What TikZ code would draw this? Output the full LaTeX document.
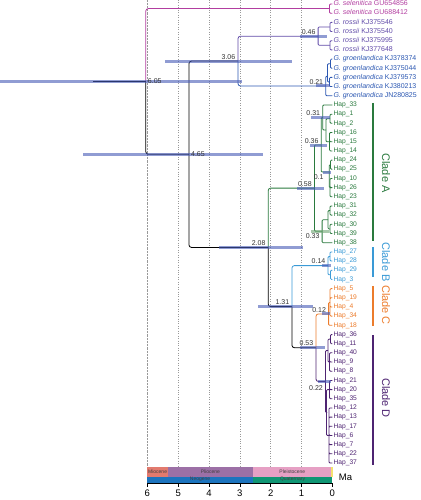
\documentclass[tikz,border=0pt]{standalone}
\usepackage{fontspec}
\setmainfont{Liberation Sans}
\usepackage{tikz}
\usepackage{xcolor}

\definecolor{colSel}{RGB}{178,62,160}
\definecolor{colRos}{RGB}{96,74,168}
\definecolor{colGro}{RGB}{44,88,178}
\definecolor{colA}{RGB}{42,122,62}
\definecolor{colB}{RGB}{58,154,214}
\definecolor{colC}{RGB}{236,124,44}
\definecolor{colD}{RGB}{78,36,114}
\definecolor{colHpd}{RGB}{70,90,182}
\definecolor{colHpdA}{RGB}{110,165,115}
\definecolor{colMio}{RGB}{226,122,110}
\definecolor{colPlio}{RGB}{156,112,166}
\definecolor{colPleis}{RGB}{230,160,196}
\definecolor{colHolo}{RGB}{244,226,110}
\definecolor{colNeo}{RGB}{28,116,190}
\definecolor{colQuat}{RGB}{16,150,116}

\tikzset{
  br/.style={line width=0.8pt, rounded corners=2.5pt},
  tb/.style={line width=0.8pt, rounded corners=1pt},
  hpd/.style={line width=3pt, draw=colHpd, draw opacity=0.6},
  hpdgreen/.style={line width=3pt, draw=colHpdA, draw opacity=0.6},
  nlab/.style={font=\fontsize{7}{7}\selectfont, text=black!80, inner sep=0pt},
  nabove/.style={anchor=south east, xshift=-2.5pt, yshift=1.5pt},
  nbelow/.style={anchor=north east, xshift=-2.5pt, yshift=-2pt},
  nright/.style={anchor=west, xshift=2pt},
  tiplab/.style={anchor=west, inner sep=1pt, text height=5pt, text depth=1.4pt, font=\fontsize{7}{8}\selectfont},
  haplab/.style={anchor=west, inner sep=1pt, text height=4.8pt, text depth=1.3pt, font=\fontsize{6.7}{7}\selectfont},
  gridline/.style={dotted, draw=black!40, line width=0.45pt},
  cladebar/.style={line width=1.6pt},
  cladelab/.style={rotate=-90, inner sep=0pt, font=\fontsize{11}{12}\selectfont},
  epochbox/.style={inner sep=0pt, minimum height=9.4pt, text=black!75, font=\fontsize{5}{5}\selectfont},
  periodbox/.style={inner sep=0pt, minimum height=6pt, text=black!75, font=\fontsize{5}{5}\selectfont},
  ticklab/.style={below, inner sep=2.5pt, font=\fontsize{9.5}{10}\selectfont}
}

\begin{document}
\begin{tikzpicture}[x=1pt, y=-1pt]
          % Variables
          \def \tz {332.3}
          \def \ma {30.83}
          \def \gridbot {467.3}

          \useasboundingbox (0,0) rectangle (420,500);

          % Grid lines
          \draw[gridline, densely dotted, line width=0.6pt] ({\tz-\ma*6},0) -- ({\tz-\ma*6},\gridbot);
          \draw[gridline] ({\tz-\ma*5},0) -- ({\tz-\ma*5},\gridbot);
          \draw[gridline] ({\tz-\ma*4},0) -- ({\tz-\ma*4},\gridbot);
          \draw[gridline] ({\tz-\ma*3},0) -- ({\tz-\ma*3},\gridbot);
          \draw[gridline] ({\tz-\ma*2},0) -- ({\tz-\ma*2},\gridbot);
          \draw[gridline] ({\tz-\ma*1},0) -- ({\tz-\ma*1},\gridbot);

          % Internal nodes (age in Ma)
          \coordinate (stem) at (93,81.4);
          \coordinate (root) at ({\tz-\ma*6.05},81.4);
          \coordinate (n465) at ({\tz-\ma*4.65},154.2);
          \coordinate (n306) at ({\tz-\ma*3.06},61.1);
          \coordinate (n208) at ({\tz-\ma*2.08},247.4);
          \coordinate (n131) at ({\tz-\ma*1.31},306.6);
          \coordinate (n058) at ({\tz-\ma*0.58},188.1);
          \coordinate (n053) at ({\tz-\ma*0.53},347.7);
          \coordinate (n046) at ({\tz-\ma*0.46},36.2);
          \coordinate (n036) at ({\tz-\ma*0.36},145);
          \coordinate (n033) at ({\tz-\ma*0.33},231.2);
          \coordinate (n031) at ({\tz-\ma*0.31},117.5);
          \coordinate (n022) at ({\tz-\ma*0.22},381.5);
          \coordinate (n021) at ({\tz-\ma*0.21},86);
          \coordinate (n014) at ({\tz-\ma*0.14},265.6);
          \coordinate (n012) at ({\tz-\ma*0.12},313.9);
          \coordinate (n010) at ({\tz-\ma*0.10},172);

          % Shallow nodes
          \coordinate (sel) at (329.5,8.6);
          \coordinate (rosA) at (330,27);
          \coordinate (rosB) at (330,45.3);
          \coordinate (groA) at (327.5,76.2);
          \coordinate (groB) at (330.5,63.7);
          \coordinate (groC) at (329.5,82);
          \coordinate (a1) at (326,130);
          \coordinate (a2) at (330,118.8);
          \coordinate (a3) at (329.5,141.7);
          \coordinate (a4) at (330.5,164.6);
          \coordinate (a5) at (330,187.6);
          \coordinate (a6) at (328,219.7);
          \coordinate (a7) at (330,210.5);
          \coordinate (a8) at (330,228.9);
          \coordinate (b1) at (330,256.5);
          \coordinate (b2) at (330.5,274.8);
          \coordinate (c1) at (330,302.4);
          \coordinate (d1) at (328,350.5);
          \coordinate (d2) at (326.5,412.5);
          \coordinate (d3) at (330.5,339.1);
          \coordinate (d4) at (329.5,362);
          \coordinate (d5) at (329.5,389.6);
          \coordinate (d6) at (329,435.5);

          % Tip labels
          \node[tiplab, text=colSel] (gs1) at (\tz,4.0) {\textit{G. selenitica} GU654856};
          \node[tiplab, text=colSel] (gs2) at (\tz,13.2) {\textit{G. selenitica} GU688412};
          \node[tiplab, text=colRos] (gr1) at (\tz,22.4) {\textit{G. rossii} KJ375546};
          \node[tiplab, text=colRos] (gr2) at (\tz,31.5) {\textit{G. rossii} KJ375540};
          \node[tiplab, text=colRos] (gr3) at (\tz,40.7) {\textit{G. rossii} KJ375995};
          \node[tiplab, text=colRos] (gr4) at (\tz,49.9) {\textit{G. rossii} KJ377648};
          \node[tiplab, text=colGro] (gg1) at (\tz,59.1) {\textit{G. groenlandica} KJ378374};
          \node[tiplab, text=colGro] (gg2) at (\tz,68.3) {\textit{G. groenlandica} KJ375044};
          \node[tiplab, text=colGro] (gg3) at (\tz,77.4) {\textit{G. groenlandica} KJ379573};
          \node[tiplab, text=colGro] (gg4) at (\tz,86.6) {\textit{G. groenlandica} KJ380213};
          \node[tiplab, text=colGro] (gg5) at (\tz,95.8) {\textit{G. groenlandica} JN280825};
          \node[haplab, text=colA] (h33) at (\tz,105.0) {Hap\_33};
          \node[haplab, text=colA] (h1) at (\tz,114.2) {Hap\_1};
          \node[haplab, text=colA] (h2) at (\tz,123.3) {Hap\_2};
          \node[haplab, text=colA] (h16) at (\tz,132.5) {Hap\_16};
          \node[haplab, text=colA] (h15) at (\tz,141.7) {Hap\_15};
          \node[haplab, text=colA] (h14) at (\tz,150.9) {Hap\_14};
          \node[haplab, text=colA] (h24) at (\tz,160.1) {Hap\_24};
          \node[haplab, text=colA] (h25) at (\tz,169.2) {Hap\_25};
          \node[haplab, text=colA] (h10) at (\tz,178.4) {Hap\_10};
          \node[haplab, text=colA] (h26) at (\tz,187.6) {Hap\_26};
          \node[haplab, text=colA] (h23) at (\tz,196.8) {Hap\_23};
          \node[haplab, text=colA] (h31) at (\tz,206.0) {Hap\_31};
          \node[haplab, text=colA] (h32) at (\tz,215.1) {Hap\_32};
          \node[haplab, text=colA] (h30) at (\tz,224.3) {Hap\_30};
          \node[haplab, text=colA] (h39) at (\tz,233.5) {Hap\_39};
          \node[haplab, text=colA] (h38) at (\tz,242.7) {Hap\_38};
          \node[haplab, text=colB] (h27) at (\tz,251.9) {Hap\_27};
          \node[haplab, text=colB] (h28) at (\tz,261.0) {Hap\_28};
          \node[haplab, text=colB] (h29) at (\tz,270.2) {Hap\_29};
          \node[haplab, text=colB] (h3) at (\tz,279.4) {Hap\_3};
          \node[haplab, text=colC] (h5) at (\tz,288.6) {Hap\_5};
          \node[haplab, text=colC] (h19) at (\tz,297.8) {Hap\_19};
          \node[haplab, text=colC] (h4) at (\tz,306.9) {Hap\_4};
          \node[haplab, text=colC] (h34) at (\tz,316.1) {Hap\_34};
          \node[haplab, text=colC] (h18) at (\tz,325.3) {Hap\_18};
          \node[haplab, text=colD] (h36) at (\tz,334.5) {Hap\_36};
          \node[haplab, text=colD] (h11) at (\tz,343.7) {Hap\_11};
          \node[haplab, text=colD] (h40) at (\tz,352.8) {Hap\_40};
          \node[haplab, text=colD] (h9) at (\tz,362.0) {Hap\_9};
          \node[haplab, text=colD] (h8) at (\tz,371.2) {Hap\_8};
          \node[haplab, text=colD] (h21) at (\tz,380.4) {Hap\_21};
          \node[haplab, text=colD] (h20) at (\tz,389.6) {Hap\_20};
          \node[haplab, text=colD] (h35) at (\tz,398.7) {Hap\_35};
          \node[haplab, text=colD] (h12) at (\tz,407.9) {Hap\_12};
          \node[haplab, text=colD] (h13) at (\tz,417.1) {Hap\_13};
          \node[haplab, text=colD] (h17) at (\tz,426.3) {Hap\_17};
          \node[haplab, text=colD] (h6) at (\tz,435.5) {Hap\_6};
          \node[haplab, text=colD] (h7) at (\tz,444.6) {Hap\_7};
          \node[haplab, text=colD] (h22) at (\tz,453.8) {Hap\_22};
          \node[haplab, text=colD] (h37) at (\tz,463.0) {Hap\_37};

          % Backbone
          \draw[br] (stem) -- (root);
          \draw[br, colSel] (root) |- (sel);
          \draw[br] (root) |- (n465);
          \draw[br] (n465) |- (n306);
          \draw[br] (n465) |- (n208);
          \draw[br, colRos] (n306) |- (n046);
          \draw[br, colGro] (n306) |- (n021);
          \draw[br, colA] (n208) |- (n058);
          \draw[br] (n208) |- (n131);
          \draw[br, colB] (n131) |- (n014);
          \draw[br] (n131) |- (n053);
          \draw[br, colC] (n053) |- (n012);
          \draw[br, colD] (n053) |- (n022);

          % Outgroups
          \draw[tb, colSel] (sel) |- (gs1.west) (sel) |- (gs2.west);
          \draw[tb, colRos] (n046) |- (rosA) (n046) |- (rosB);
          \draw[tb, colRos] (rosA) |- (gr1.west) (rosA) |- (gr2.west);
          \draw[tb, colRos] (rosB) |- (gr3.west) (rosB) |- (gr4.west);
          \draw[tb, colGro] (n021) |- (groA) (n021) |- (gg5.west);
          \draw[tb, colGro] (groA) |- (groB) (groA) |- (groC);
          \draw[tb, colGro] (groB) |- (gg1.west) (groB) |- (gg2.west);
          \draw[tb, colGro] (groC) |- (gg3.west) (groC) |- (gg4.west);

          % Clade A
          \draw[tb, colA] (n058) |- (n036) (n058) |- (n033);
          \draw[tb, colA] (n036) |- (n031) (n036) |- (n010);
          \draw[tb, colA] (n031) |- (h33.west) (n031) |- (a1);
          \draw[tb, colA] (a1) |- (a2) (a1) |- (a3);
          \draw[tb, colA] (a2) |- (h1.west) (a2) |- (h2.west);
          \draw[tb, colA] (a3) |- (h16.west) (a3) |- (h15.west) (a3) |- (h14.west);
          \draw[tb, colA] (n010) |- (a4) (n010) |- (a5);
          \draw[tb, colA] (a4) |- (h24.west) (a4) |- (h25.west);
          \draw[tb, colA] (a5) |- (h10.west) (a5) |- (h26.west) (a5) |- (h23.west);
          \draw[tb, colA] (n033) |- (a6) (n033) |- (h38.west);
          \draw[tb, colA] (a6) |- (a7) (a6) |- (a8);
          \draw[tb, colA] (a7) |- (h31.west) (a7) |- (h32.west);
          \draw[tb, colA] (a8) |- (h30.west) (a8) |- (h39.west);

          % Clade B
          \draw[tb, colB] (n014) |- (b1) (n014) |- (b2);
          \draw[tb, colB] (b1) |- (h27.west) (b1) |- (h28.west);
          \draw[tb, colB] (b2) |- (h29.west) (b2) |- (h3.west);

          % Clade C
          \draw[tb, colC] (n012) |- (c1) (n012) |- (h18.west);
          \draw[tb, colC] (c1) |- (h5.west) (c1) |- (h19.west) (c1) |- (h4.west) (c1) |- (h34.west);

          % Clade D
          \draw[tb, colD] (n022) |- (d1) (n022) |- (d2);
          \draw[tb, colD] (d1) |- (d3) (d1) |- (d4);
          \draw[tb, colD] (d2) |- (d5) (d2) |- (d6);
          \draw[tb, colD] (d3) |- (h36.west) (d3) |- (h11.west);
          \draw[tb, colD] (d4) |- (h40.west) (d4) |- (h9.west) (d4) |- (h8.west);
          \draw[tb, colD] (d5) |- (h21.west) (d5) |- (h20.west) (d5) |- (h35.west);
          \draw[tb, colD] (d6) |- (h12.west) (d6) |- (h13.west) (d6) |- (h17.west) (d6) |- (h6.west)
                              (d6) |- (h7.west) (d6) |- (h22.west) (d6) |- (h37.west);

          % Node age bars
          \draw[hpd] (0,0 |- root) -- (242,0 |- root);
          \draw[hpd] (83,0 |- n465) -- (263,0 |- n465);
          \draw[hpd] (165,0 |- n306) -- (292,0 |- n306);
          \draw[hpd] (219,0 |- n208) -- (303,0 |- n208);
          \draw[hpd] (258,0 |- n131) -- (313,0 |- n131);
          \draw[hpd] (297,0 |- n058) -- (324,0 |- n058);
          \draw[hpd] (300,0 |- n053) -- (325,0 |- n053);
          \draw[hpd] (300,0 |- n046) -- (327,0 |- n046);
          \draw[hpd] (310,0 |- n036) -- (327,0 |- n036);
          \draw[hpdgreen] (311,0 |- n033) -- (329,0 |- n033);
          \draw[hpd] (311,0 |- n031) -- (330,0 |- n031);
          \draw[hpd] (318,0 |- n022) -- (331,0 |- n022);
          \draw[hpd] (316,0 |- n021) -- (330,0 |- n021);
          \draw[hpd] (322,0 |- n014) -- (331,0 |- n014);
          \draw[hpd] (322,0 |- n012) -- (330,0 |- n012);
          \draw[hpd] (323,0 |- n010) -- (330.5,0 |- n010);

          % Node ages
          \node[nlab, nright] (l605) at (root) {6.05};
          \node[nlab, nright] (l465) at (n465) {4.65};
          \node[nlab, nabove] (l306) at (n306) {3.06};
          \node[nlab, nabove] (l208) at (n208) {2.08};
          \node[nlab, nabove] (l131) at (n131) {1.31};
          \node[nlab, nabove] (l058) at (n058) {0.58};
          \node[nlab, nabove] (l053) at (n053) {0.53};
          \node[nlab, nabove] (l046) at (n046) {0.46};
          \node[nlab, nabove] (l036) at (n036) {0.36};
          \node[nlab, nbelow] (l033) at (n033) {0.33};
          \node[nlab, nabove] (l031) at (n031) {0.31};
          \node[nlab, nbelow, yshift=-1.5pt] (l022) at (n022) {0.22};
          \node[nlab, nabove] (l021) at (n021) {0.21};
          \node[nlab, nabove] (l014) at (n014) {0.14};
          \node[nlab, nabove] (l012) at (n012) {0.12};
          \node[nlab, nbelow, xshift=-3pt] (l010) at (n010) {0.1};

          % Clades
          \draw[cladebar, colA] (373,103) -- (373,241);
          \draw[cladebar, colB] (373,247) -- (373,277);
          \draw[cladebar, colC] (373,286) -- (373,326);
          \draw[cladebar, colD] (373,335) -- (373,465);
          \node[cladelab, text=colA] (cla) at (386,173) {Clade A};
          \node[cladelab, text=colB] (clb) at (386,262) {Clade B};
          \node[cladelab, text=colC] (clc) at (386,305) {Clade C};
          \node[cladelab, text=colD] (cld) at (386,398) {Clade D};

          % Time scale
          \node[epochbox, fill=colMio, minimum width=20.6pt] (mio) at (157.6,472) {Miocene};
          \node[epochbox, fill=colPlio, minimum width=84.9pt] (plio) at (210.35,472) {Pliocene};
          \node[epochbox, fill=colPleis, minimum width=79.1pt] (pleis) at (292.35,472) {Pleistocene};
          \node[epochbox, fill=colHolo, minimum width=1.2pt] (holo) at (332,472) {};
          \node[periodbox, fill=colNeo, minimum width=105.5pt] (neo) at (200.05,479.7) {Neogene};
          \node[periodbox, fill=colQuat, minimum width=79.5pt] (quat) at (292.55,479.7) {Quaternary};

          % Axis
          \draw[line width=0.6pt] ({\tz-\ma*6},483) -- (\tz,483);
          \draw[line width=0.6pt] ({\tz-\ma*6},483) -- ({\tz-\ma*6},487) node[ticklab]{6};
          \draw[line width=0.6pt] ({\tz-\ma*5},483) -- ({\tz-\ma*5},487) node[ticklab]{5};
          \draw[line width=0.6pt] ({\tz-\ma*4},483) -- ({\tz-\ma*4},487) node[ticklab]{4};
          \draw[line width=0.6pt] ({\tz-\ma*3},483) -- ({\tz-\ma*3},487) node[ticklab]{3};
          \draw[line width=0.6pt] ({\tz-\ma*2},483) -- ({\tz-\ma*2},487) node[ticklab]{2};
          \draw[line width=0.6pt] ({\tz-\ma*1},483) -- ({\tz-\ma*1},487) node[ticklab]{1};
          \draw[line width=0.6pt] (\tz,483) -- (\tz,487) node[ticklab]{0};
          \node[font=\fontsize{9.5}{10}\selectfont] (ma) at (345.5,477) {Ma};

        \end{tikzpicture}
\end{document}
